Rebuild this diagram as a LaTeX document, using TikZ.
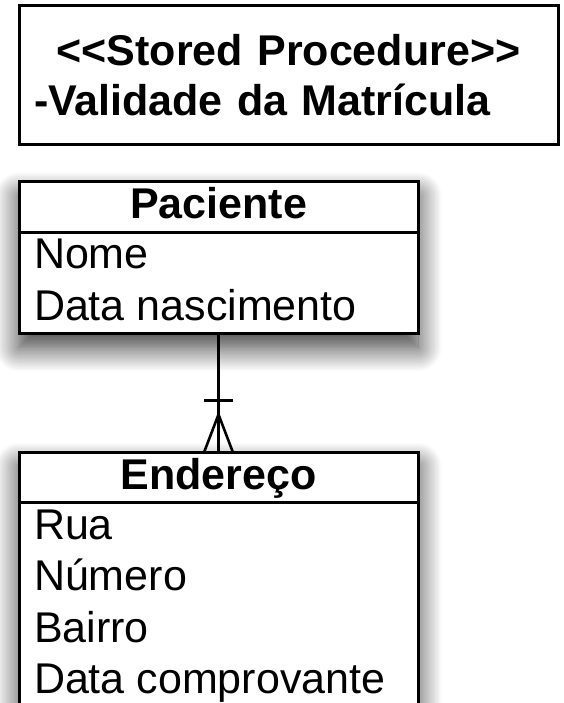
\documentclass[tikz,border=0pt]{standalone}
\usepackage{fontspec}
\setmainfont{Liberation Sans}
\usetikzlibrary{arrows.meta, positioning, shapes.multipart, calc, shadows.blur}

\newcommand{\rowstrut}{\rule[-10pt]{0pt}{43pt}}

\begin{document}
\begin{tikzpicture}[x=1pt, y=-1pt,
    every node/.style={font=\fontsize{43}{51.5}\selectfont},
    procbox/.style={draw, line width=3pt, fill=white, outer sep=0pt,
                    minimum width=539pt, minimum height=139pt,
                    text width=509pt, align=left, inner xsep=15pt,
                    font=\fontsize{43}{50}\selectfont\bfseries},
    classbox/.style={draw, line width=3pt, fill=white, outer sep=0pt,
                     rectangle split, rectangle split parts=2,
                     rectangle split part align={center, left},
                     minimum width=399pt, inner xsep=15pt, inner ysep=2pt, align=left,
                     blur shadow={shadow xshift=0pt, shadow yshift=-14pt,
                                  shadow blur radius=24pt, shadow blur steps=18,
                                  shadow opacity=80}},
    rel/.style={line width=2.6pt}
]
    \useasboundingbox (0,0) rectangle (563,703);
    \clip (0,0) rectangle (563,703);

    \node[procbox] (proc) at (288.5,75.5)
        {\makebox[\linewidth]{<{}<Stored Procedure>{}>}\\-Validade da Matrícula};

    \node[classbox, anchor=north] (paciente) at (218.5,182)
        {\textbf{Paciente}\rowstrut
         \nodepart{second}Nome\rowstrut\\Data nascimento\rowstrut};
    \node[classbox, below=119pt of paciente] (endereco)
        {\textbf{Endereço}\rowstrut
         \nodepart{second}Rua\rowstrut\\Número\rowstrut\\Bairro\rowstrut\\Data comprovante\rowstrut};

    \draw[rel] (paciente.south) -- (endereco.north);
    \draw[rel] ($(endereco.north)+(-14.5pt,52pt)$) -- ++(29pt,0pt);
    \draw[rel] ($(endereco.north)+(-14.5pt,0pt)$) -- ($(endereco.north)+(0pt,38pt)$)
               -- ($(endereco.north)+(14.5pt,0pt)$);
\end{tikzpicture}
\end{document}
